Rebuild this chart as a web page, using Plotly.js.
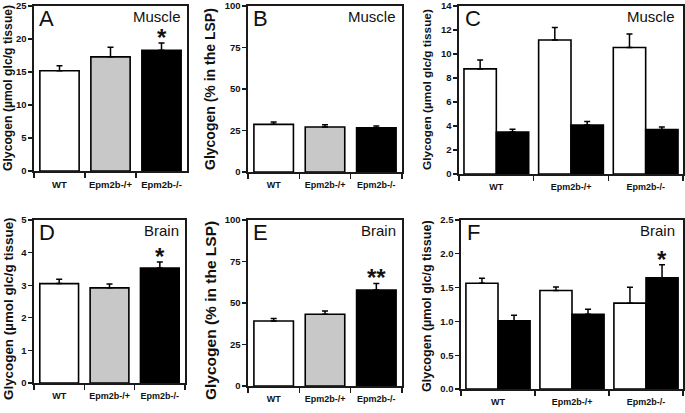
<!DOCTYPE html>
<html>
<head>
<meta charset="utf-8">
<script src="https://cdn.plot.ly/plotly-3.0.1.min.js"></script>
<style>html,body{margin:0;padding:0;background:#fff;}#chart{width:685px;height:413px;}</style>
</head>
<body>
<div id="chart"></div>
<script>
// ---- data ----
const categories = ['WT', 'Epm2b-/+', 'Epm2b-/-'];
// A: muscle total glycogen
const muscleTotal = [15.2, 17.3, 18.3];
const muscleTotalErr = [0.75, 1.45, 1.1];
// B: muscle % glycogen in LSP
const muscleLSP = [28.7, 27.1, 26.7];
const muscleLSPErr = [1.4, 1.4, 1.0];
// C: muscle, white and black series
const muscleWhite = [8.76, 11.17, 10.54];
const muscleWhiteErr = [0.74, 1.05, 1.13];
const muscleBlack = [3.5, 4.08, 3.7];
const muscleBlackErr = [0.22, 0.3, 0.21];
// D: brain total glycogen
const brainTotal = [3.05, 2.92, 3.53];
const brainTotalErr = [0.13, 0.12, 0.18];
// E: brain % glycogen in LSP
const brainLSP = [39.2, 43.2, 57.8];
const brainLSPErr = [1.4, 2.0, 4.0];
// F: brain, white and black series
const brainWhite = [1.565, 1.457, 1.27];
const brainWhiteErr = [0.075, 0.053, 0.236];
const brainBlack = [1.01, 1.107, 1.644];
const brainBlackErr = [0.08, 0.073, 0.196];

const yTitleTotal = 'Glycogen (µmol glc/g tissue)';
const yTitleLSP = 'Glycogen (% in the LSP)';

// ---- styling ----
const W = 685, H = 413;
const FONT = 'Arial, "Liberation Sans", sans-serif';
const LINE = '#1a1a1a';
const GRAY = '#c8c8c8';

function px2x(p) { return p / W; }
function px2y(p) { return 1 - p / H; }

function errBar(arr) {
  return {type: 'data', symmetric: false, array: arr, arrayminus: arr.map(() => 0),
          color: '#000', thickness: 1.5, width: 3, visible: true};
}

function singleTrace(vals, errs, n, colors) {
  const s = n === 1 ? '' : String(n);
  return {type: 'bar', x: categories, y: vals, xaxis: 'x' + s, yaxis: 'y' + s,
    width: 0.77,
    marker: {color: colors, line: {color: '#000', width: 1.6}},
    error_y: errBar(errs), hoverinfo: 'skip', showlegend: false};
}
function groupTrace(vals, errs, n, color) {
  const s = n === 1 ? '' : String(n);
  return {type: 'bar', x: categories, y: vals, xaxis: 'x' + s, yaxis: 'y' + s,
    marker: {color: color, line: {color: '#000', width: 1.6}},
    error_y: errBar(errs), hoverinfo: 'skip', showlegend: false};
}

const triColors = ['#ffffff', GRAY, '#000000'];

const data = [
  singleTrace(muscleTotal, muscleTotalErr, 1, triColors),
  singleTrace(muscleLSP, muscleLSPErr, 2, triColors),
  groupTrace(muscleWhite, muscleWhiteErr, 3, '#ffffff'),
  groupTrace(muscleBlack, muscleBlackErr, 3, '#000000'),
  singleTrace(brainTotal, brainTotalErr, 4, triColors),
  singleTrace(brainLSP, brainLSPErr, 5, triColors),
  groupTrace(brainWhite, brainWhiteErr, 6, '#ffffff'),
  groupTrace(brainBlack, brainBlackErr, 6, '#000000')
];

// panel geometry in pixels: [left, right, top, bottom]
const panels = [
  {box: [34, 187, 6, 171], range: [0, 25], dtick: 5, fmt: '', xfs: 9.5, yfs: 9.5},
  {box: [248, 402, 6, 172], range: [0, 100], dtick: 25, fmt: '', xfs: 9, yfs: 9.5},
  {box: [459, 683, 6, 174], range: [0, 14], dtick: 2, fmt: '', xfs: 9, yfs: 9.5},
  {box: [34, 185, 220, 383], range: [0, 5], dtick: 1, fmt: '', xfs: 9, yfs: 9.5},
  {box: [248, 402, 220, 386], range: [0, 100], dtick: 25, fmt: '', xfs: 9, yfs: 9.5},
  {box: [461, 683, 220, 389], range: [0, 2.5], dtick: 0.5, fmt: '.1f', xfs: 9, yfs: 9.5}
];

const layout = {
  width: W, height: H,
  margin: {l: 0, r: 0, t: 0, b: 0},
  paper_bgcolor: '#fff', plot_bgcolor: '#fff',
  barmode: 'group', bargap: 0.133, bargroupgap: 0,
  showlegend: false,
  font: {family: FONT, color: '#111'},
  annotations: []
};

panels.forEach((p, i) => {
  const s = i === 0 ? '' : String(i + 1);
  const [l, r, t, b] = p.box;
  layout['xaxis' + s] = {
    domain: [px2x(l), px2x(r)], anchor: 'y' + s,
    type: 'category', range: [-0.5, 2.5], fixedrange: true,
    showline: true, linecolor: LINE, linewidth: 1.6, mirror: true,
    ticks: 'outside', tickson: 'boundaries', ticklen: 5, tickwidth: 1.3, tickcolor: LINE,
    ticklabelstandoff: 4, tickangle: 0, ticklabeloverflow: 'allow',
    tickfont: {family: FONT, size: p.xfs, weight: 'bold', color: '#111'},
    showgrid: false, zeroline: false
  };
  layout['yaxis' + s] = {
    domain: [px2y(b), px2y(t)], anchor: 'x' + s,
    range: [p.range[0], p.range[1] * 1.0002], dtick: p.dtick, tick0: 0, tickformat: p.fmt,
    fixedrange: true, ticklabeloverflow: 'allow',
    showline: true, linecolor: LINE, linewidth: 1.6, mirror: true,
    ticks: 'outside', ticklen: 4, tickwidth: 1.3, tickcolor: LINE,
    tickfont: {family: FONT, size: p.yfs, weight: 'bold', color: '#111'},
    showgrid: false, zeroline: false
  };
});

// y-axis titles
const yTitles = [
  {text: yTitleTotal, x: 8, y: 88, size: 12.2},
  {text: yTitleLSP, x: 210, y: 89, size: 14},
  {text: yTitleTotal, x: 427, y: 90, size: 11.8},
  {text: yTitleTotal, x: 8, y: 309, size: 13.4},
  {text: yTitleLSP, x: 210, y: 311, size: 15.5},
  {text: yTitleTotal, x: 427, y: 306, size: 12.6}
];
yTitles.forEach(t => layout.annotations.push({
  xref: 'paper', yref: 'paper', x: px2x(t.x), y: px2y(t.y),
  text: t.text, textangle: -90, showarrow: false,
  xanchor: 'center', yanchor: 'middle',
  font: {family: FONT, size: t.size, weight: 'bold', color: '#111'}
}));

// panel letters and tissue labels
const letters = ['A', 'B', 'C', 'D', 'E', 'F'];
const tissues = ['Muscle', 'Muscle', 'Muscle', 'Brain', 'Brain', 'Brain'];
letters.forEach((L, i) => {
  const s = i === 0 ? '' : String(i + 1);
  layout.annotations.push({
    xref: 'x' + s + ' domain', yref: 'y' + s + ' domain', x: 0.02, y: 1.01,
    xanchor: 'left', yanchor: 'top', text: L, showarrow: false,
    font: {family: FONT, size: 22, color: '#111'}
  });
  layout.annotations.push({
    xref: 'x' + s + ' domain', yref: 'y' + s + ' domain', x: 0.975, y: 1.0,
    xanchor: 'right', yanchor: 'top', text: tissues[i], showarrow: false,
    font: {family: FONT, size: 15, color: '#111'}
  });
});

// significance markers
const stars = [
  {ax: '', cat: 2, y: muscleTotal[2] + muscleTotalErr[2], text: '*'},
  {ax: '4', cat: 2, y: brainTotal[2] + brainTotalErr[2], text: '*'},
  {ax: '5', cat: 2, y: brainLSP[2] + brainLSPErr[2], text: '**'},
  {ax: '6', cat: 2, y: brainBlack[2] + brainBlackErr[2], text: '*', dx: 0.22}
];
stars.forEach(st => layout.annotations.push({
  xref: 'x' + st.ax, yref: 'y' + st.ax, x: st.cat + (st.dx || 0), y: st.y,
  xanchor: 'center', yanchor: 'bottom', text: st.text, showarrow: false,
  yshift: -10,
  font: {family: FONT, size: 24, weight: 'bold', color: '#111'}
}));

Plotly.newPlot('chart', data, layout, {staticPlot: true, displayModeBar: false});
</script>
</body>
</html>
